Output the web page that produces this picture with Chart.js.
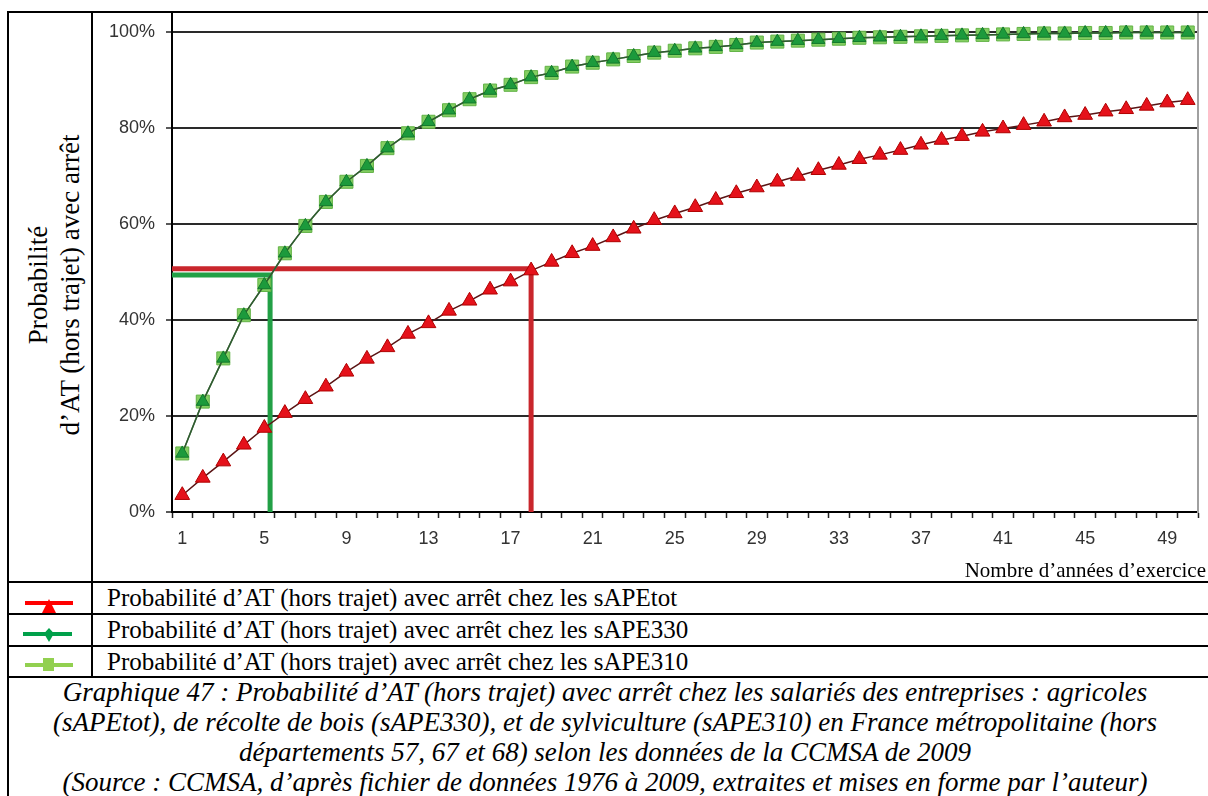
<!DOCTYPE html>
<html><head><meta charset="utf-8">
<script src="https://cdn.jsdelivr.net/npm/chart.js@4/dist/chart.umd.min.js"></script>
<style>
html,body{margin:0;padding:0;background:#fff;width:1208px;height:796px;overflow:hidden;position:relative;font-family:"Liberation Serif","Times New Roman",serif;color:#000}
.ln{position:absolute;background:#000}
#wrap{position:absolute;left:93px;top:13px;width:1115px;height:568px}
#ytitle{position:absolute;left:-226px;top:253px;width:560px;height:64px;transform:rotate(-90deg);text-align:center;font-size:27px;line-height:32px;white-space:nowrap}
#xtitle{position:absolute;right:2px;top:558px;font-size:21px;line-height:24px;white-space:nowrap}
.lrow{position:absolute;left:107px;font-size:25px;line-height:32px;height:32px;white-space:nowrap}
.key{position:absolute}
#caption{position:absolute;left:9px;width:1192px;top:677px;text-align:center;font-style:italic;font-size:27px;line-height:30px;white-space:nowrap}
</style></head><body>
<div class="ln" style="left:7px;top:11px;width:1201px;height:2px"></div>
<div class="ln" style="left:7px;top:11px;width:2px;height:785px"></div>
<div class="ln" style="left:91px;top:11px;width:2px;height:666px"></div>
<div class="ln" style="left:7px;top:581px;width:1201px;height:2px"></div>
<div class="ln" style="left:7px;top:613px;width:1201px;height:2px"></div>
<div class="ln" style="left:7px;top:645px;width:1201px;height:2px"></div>
<div class="ln" style="left:7px;top:676px;width:1201px;height:2px"></div>

<div id="ytitle">Probabilité<br>d’AT (hors trajet) avec arrêt</div>
<div id="wrap"><canvas id="c"></canvas></div>
<div id="xtitle">Nombre d’années d’exercice</div>

<!-- legend keys -->
<div class="key" style="left:25px;top:601px;width:48px;height:4px;background:#ff0000"></div>
<div class="key" style="left:42px;top:599px;width:14px;height:14px;background:#ff0000;clip-path:polygon(50% 0,100% 100%,0 100%)"></div>
<div class="key" style="left:23px;top:632px;width:49px;height:4px;background:#00a04a"></div>
<div class="key" style="left:44px;top:628px;width:10px;height:14px;background:#00a04a;clip-path:polygon(50% 0,100% 40%,50% 100%,0 40%)"></div>
<div class="key" style="left:25px;top:663px;width:48px;height:4px;background:#92d050"></div>
<div class="key" style="left:43px;top:658px;width:11px;height:13px;background:#92d050"></div>

<div class="lrow" style="top:582px">Probabilité d’AT (hors trajet) avec arrêt chez les sAPEtot</div>
<div class="lrow" style="top:614px">Probabilité d’AT (hors trajet) avec arrêt chez les sAPE330</div>
<div class="lrow" style="top:646px">Probabilité d’AT (hors trajet) avec arrêt chez les sAPE310</div>

<div id="caption">Graphique 47 : Probabilité d’AT (hors trajet) avec arrêt chez les salariés des entreprises : agricoles<br>(sAPEtot), de récolte de bois (sAPE330), et de sylviculture (sAPE310) en France métropolitaine (hors<br>départements 57, 67 et 68) selon les données de la CCMSA de 2009<br>(Source : CCMSA, d’après fichier de données 1976 à 2009, extraites et mises en forme par l’auteur)</div>

<script>
// Categories: number of years of practice
const years = ['1','2','3','4','5','6','7','8','9','10','11','12','13','14','15','16','17','18','19','20',
  '21','22','23','24','25','26','27','28','29','30','31','32','33','34','35','36','37','38','39','40',
  '41','42','43','44','45','46','47','48','49','50'];
// Probability (%) of work accident with stoppage
const sAPEtot = [3.5,7.1,10.5,14.0,17.5,20.6,23.5,26.1,29.2,31.9,34.3,37.1,39.3,41.9,44.0,46.3,48.0,50.3,52.1,53.9,
  55.4,57.2,59.0,60.8,62.2,63.5,65.0,66.4,67.6,68.8,70.0,71.2,72.3,73.5,74.4,75.4,76.5,77.5,78.3,79.2,
  79.9,80.6,81.3,82.2,82.7,83.4,83.9,84.6,85.3,85.8];
const sAPE330 = [12.2,23.0,32.0,41.0,47.3,53.9,59.6,64.6,68.8,72.1,75.8,78.9,81.3,83.7,86.0,87.8,89.0,90.6,91.5,92.8,
  93.6,94.3,95.0,95.7,96.1,96.6,96.9,97.3,97.8,98.0,98.2,98.4,98.6,98.8,98.9,99.0,99.1,99.2,99.3,99.4,
  99.5,99.6,99.7,99.7,99.8,99.8,99.9,99.9,99.9,99.9];
const sAPE310 = [12.2,23.0,32.0,41.0,47.3,53.9,59.6,64.6,68.8,72.1,75.8,78.9,81.3,83.7,86.0,87.8,89.0,90.6,91.5,92.8,
  93.6,94.3,95.0,95.7,96.1,96.6,96.9,97.3,97.8,98.0,98.2,98.4,98.6,98.8,98.9,99.0,99.1,99.2,99.3,99.4,
  99.5,99.6,99.7,99.7,99.8,99.8,99.9,99.9,99.9,99.9];
// 50% reading lines (years, probability)
const medianTot = [{x:0.5,y:50.7},{x:18,y:50.7},{x:18,y:0}];
const median330 = [{x:0.5,y:49.4},{x:5.28,y:49.4},{x:5.28,y:0}];
// Axis ticks
const yTicks = [0,20,40,60,80,100];
const xShown = ['1','5','9','13','17','21','25','29','33','37','41','45','49'];

const sansFont = {family:'"Liberation Sans", Arial, sans-serif', size:18};

new Chart(document.getElementById('c'), {
  type:'line',
  data:{
    labels: years,
    datasets:[
      {label:'sAPEtot', data:sAPEtot, borderColor:'#5a1414', borderWidth:1.5, pointStyle:'triangle', pointRadius:8.5,
        pointBackgroundColor:'#e5121b', pointBorderColor:'#b00000', pointBorderWidth:1, clip:false},
      {label:'sAPE330', data:sAPE330, borderColor:'#2f5a2f', borderWidth:1.5, pointStyle:'triangle', pointRadius:7.5,
        pointBackgroundColor:'#1c9a3c', pointBorderColor:'#137a2c', pointBorderWidth:1, clip:false},
      {label:'sAPE310', data:sAPE310, borderColor:'#5f8c5f', borderWidth:1.5, pointStyle:'rect', pointRadius:9.2,
        pointBackgroundColor:'#84cf62', pointBorderColor:'#62b246', pointBorderWidth:1, clip:false},
      {label:'Médiane sAPEtot', data:medianTot, xAxisID:'x2', borderColor:'#c9262c', borderWidth:5, pointRadius:0, tension:0},
      {label:'Médiane sAPE330', data:median330, xAxisID:'x2', borderColor:'#22a046', borderWidth:5, pointRadius:0, tension:0}
    ]
  },
  options:{
    responsive:true, maintainAspectRatio:false, animation:false,
    layout:{autoPadding:false, padding:{left:0,right:10,top:0,bottom:0}},
    plugins:{legend:{display:false}, tooltip:{enabled:false}},
    scales:{
      x:{type:'category', offset:true,
        grid:{offset:true, drawOnChartArea:false, drawTicks:true, tickLength:6, tickColor:'#222', tickWidth:1.5},
        border:{display:true, color:'#000', width:2},
        ticks:{autoSkip:false, maxRotation:0, minRotation:0, padding:10, color:'#333', font:sansFont,
          callback:(v,i)=> xShown.includes(years[i]) ? years[i] : ''},
        afterFit(s){s.height=69; s.paddingLeft=0; s.paddingRight=0;}
      },
      x2:{type:'linear', min:0.5, max:50.5, position:'bottom',
        grid:{display:false}, border:{display:false}, ticks:{display:false},
        afterFit(s){s.height=0;}
      },
      y:{min:0, max:103.96,
        afterBuildTicks(s){s.ticks = yTicks.map(v=>({value:v}));},
        grid:{color:'#2a2a2a', lineWidth:2, drawTicks:true, tickLength:6, tickColor:'#222', tickWidth:1.5},
        border:{display:true, color:'#000', width:2},
        ticks:{padding:11, color:'#333', font:sansFont, callback:v=>v+'%'},
        afterFit(s){s.width=79; s.paddingTop=0; s.paddingBottom=0;}
      },
      y2:{position:'right', min:0, max:103.96,
        grid:{drawOnChartArea:false, drawTicks:false}, ticks:{display:false},
        border:{display:true, color:'#a0a0a0', width:2},
        afterFit(s){s.width=0; s.paddingTop=0; s.paddingBottom=0;}
      }
    }
  }
});
</script>
</body></html>
